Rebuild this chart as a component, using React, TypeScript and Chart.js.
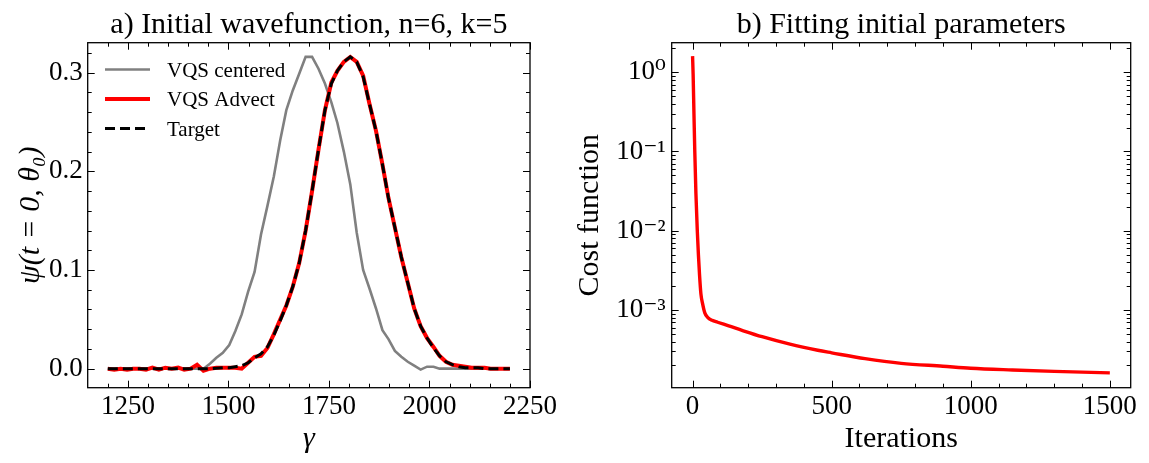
import React, { useEffect, useRef } from 'react';
import { Chart, registerables } from 'chart.js';

Chart.register(...registerables);

// ---------- Panel a) data ----------
const gamma = [
  1200, 1216, 1232, 1248, 1263, 1279, 1295, 1311, 1327, 1343, 1359, 1375, 1390, 1406, 1422, 1438,
  1454, 1470, 1486, 1502, 1517, 1533, 1549, 1565, 1581, 1597, 1613, 1629, 1644, 1660, 1676, 1692,
  1708, 1724, 1740, 1756, 1771, 1787, 1803, 1819, 1835, 1851, 1867, 1883, 1898, 1914, 1930, 1946,
  1962, 1978, 1994, 2010, 2025, 2041, 2057, 2073, 2089, 2105, 2121, 2137, 2152, 2168, 2184, 2200,
];

const vqsCentered = [
  0.0, 0.0, 0.0, 0.0, 0.0, 0.0, 0.0, 0.0, 0.0, 0.0, 0.0, 0.0, 0.0, 0.0, 0.0, 0.0,
  0.005, 0.011, 0.016, 0.024, 0.038, 0.055, 0.078, 0.098, 0.136, 0.165, 0.195, 0.232, 0.262, 0.282, 0.299, 0.316,
  0.316, 0.304, 0.289, 0.27, 0.249, 0.22, 0.187, 0.138, 0.1, 0.081, 0.061, 0.039, 0.03, 0.018, 0.012, 0.007,
  0.003, -0.001, 0.002, 0.002, 0.0, 0.0, 0.0, 0.0, 0.0, 0.0, 0.0, 0.0, 0.0, 0.0, 0.0, 0.0,
];

const vqsAdvect = [
  0.0, -0.001, 0.0, -0.001, 0.0, 0.0, -0.001, 0.001, -0.001, 0.001, 0.0, 0.001, -0.001, 0.0, 0.004, -0.002,
  0.0, 0.001, 0.001, 0.001, 0.001, 0.0, 0.006, 0.012, 0.013, 0.021, 0.035, 0.05, 0.064, 0.083, 0.107, 0.14,
  0.18, 0.222, 0.262, 0.29, 0.302, 0.311, 0.316, 0.311, 0.297, 0.268, 0.241, 0.207, 0.173, 0.143, 0.113, 0.087,
  0.061, 0.043, 0.031, 0.022, 0.013, 0.007, 0.004, 0.003, 0.002, 0.001, 0.001, 0.001, 0.0, 0.0, 0.0, 0.0,
];

const target = [
  0.0, 0.0, 0.0, 0.0, 0.0, 0.0, 0.0, 0.0, 0.0, 0.0, 0.0, 0.0, 0.0, 0.0, 0.0, 0.0,
  0.0, 0.0005, 0.001, 0.001, 0.002, 0.003, 0.006, 0.011, 0.015, 0.022, 0.034, 0.049, 0.064, 0.083, 0.107, 0.14,
  0.18, 0.222, 0.262, 0.289, 0.302, 0.311, 0.316, 0.311, 0.296, 0.268, 0.241, 0.207, 0.173, 0.143, 0.113, 0.087,
  0.061, 0.043, 0.031, 0.021, 0.013, 0.007, 0.004, 0.002, 0.001, 0.001, 0.001, 0.0, 0.0, 0.0, 0.0, 0.0,
];

// ---------- Panel b) data ----------
const iterations = [0, 2, 5, 8, 12, 17, 21, 25, 30, 36, 44, 55, 70, 90, 130, 180, 250, 350, 450, 500, 620, 750, 900, 1000, 1150, 1300, 1500];
const cost = [
  1.6, 0.95, 0.3, 0.1, 0.03, 0.01, 0.005, 0.0028, 0.0016, 0.0012, 0.00092, 0.0008, 0.00074, 0.0007, 0.00063,
  0.00055, 0.00046, 0.00037, 0.00031, 0.000288, 0.000243, 0.000212, 0.000195, 0.000184, 0.000175, 0.000168, 0.000161,
];

// ---------- Tick labels ----------
const leftXTicks = [1250, 1500, 1750, 2000, 2250];
const leftYTicks = [0, 0.1, 0.2, 0.3];
const rightXTicks = [0, 500, 1000, 1500];
const rightYTicks = [1e-3, 1e-2, 1e-1, 1];
const rightYTickLabels = ['10⁻³', '10⁻²', '10⁻¹', '10⁰'];

const titleA = 'a) Initial wavefunction, n=6, k=5';
const titleB = 'b) Fitting initial parameters';
const legendLabels = ['VQS centered', 'VQS Advect', 'Target'];

const SERIF = '"Liberation Serif", "DejaVu Serif", serif';

function range(a: number, b: number, s: number) {
  const out: number[] = [];
  for (let v = a; v <= b + 1e-9; v += s) out.push(+v.toFixed(6));
  return out;
}
function logMinor(dMin: number, dMax: number) {
  const out: number[] = [];
  for (let d = dMin; d <= dMax; d++) for (let m = 2; m <= 9; m++) out.push(m * Math.pow(10, d));
  return out;
}

const framePlugin = {
  id: 'mplFrame',
  afterDraw(chart: any, _args: any, opts: any) {
    const { ctx, chartArea: a, scales } = chart;
    const xs = scales.x;
    const ys = scales.y;
    ctx.save();
    ctx.strokeStyle = '#000';
    ctx.lineWidth = 1;
    const inX = (px: number) => px >= a.left - 0.5 && px <= a.right + 0.5;
    const inY = (py: number) => py >= a.top - 0.5 && py <= a.bottom + 0.5;
    const drawX = (vals: number[], len: number) => {
      for (const v of vals) {
        const px = Math.round(xs.getPixelForValue(v)) + 0.5;
        if (!inX(px)) continue;
        ctx.beginPath();
        ctx.moveTo(px, a.bottom);
        ctx.lineTo(px, a.bottom - len);
        ctx.moveTo(px, a.top);
        ctx.lineTo(px, a.top + len);
        ctx.stroke();
      }
    };
    const drawY = (vals: number[], len: number) => {
      for (const v of vals) {
        const py = Math.round(ys.getPixelForValue(v)) + 0.5;
        if (!inY(py)) continue;
        ctx.beginPath();
        ctx.moveTo(a.left, py);
        ctx.lineTo(a.left + len, py);
        ctx.moveTo(a.right, py);
        ctx.lineTo(a.right - len, py);
        ctx.stroke();
      }
    };
    drawX(opts.xMajor, 7);
    drawX(opts.xMinor, 4);
    drawY(opts.yMajor, 7);
    drawY(opts.yMinor, 4);
    ctx.lineWidth = 1.3;
    ctx.strokeRect(a.left, a.top, a.right - a.left, a.bottom - a.top);

    ctx.fillStyle = '#000';
    ctx.font = `30px ${SERIF}`;
    ctx.textAlign = 'center';
    ctx.textBaseline = 'alphabetic';
    ctx.fillText(opts.title, (a.left + a.right) / 2, 33);

    if (opts.legend) {
      ctx.font = `21px ${SERIF}`;
      ctx.textAlign = 'left';
      opts.legend.forEach((it: any, i: number) => {
        const y = 69.5 + i * 29.5;
        ctx.beginPath();
        ctx.strokeStyle = it.color;
        ctx.lineWidth = it.width;
        ctx.setLineDash(it.dash || []);
        ctx.moveTo(105, y);
        ctx.lineTo(150, y);
        ctx.stroke();
        ctx.setLineDash([]);
        ctx.fillStyle = '#000';
        ctx.fillText(it.label, 167, y + 7);
      });
    }
    ctx.restore();
  },
};

const tickFont = { family: SERIF, size: 27 };
const labelFont = { family: SERIF, size: 30 };

function makeLeft(canvas: HTMLCanvasElement) {
  return new Chart(canvas, {
    type: 'line',
    data: {
      datasets: [
        {
          label: legendLabels[0],
          data: gamma.map((g, i) => ({ x: g, y: vqsCentered[i] })),
          borderColor: '#808080',
          borderWidth: 2.6,
          pointRadius: 0,
          tension: 0,
          order: 3,
        },
        {
          label: legendLabels[1],
          data: gamma.map((g, i) => ({ x: g, y: vqsAdvect[i] })),
          borderColor: '#ff0000',
          borderWidth: 4,
          pointRadius: 0,
          tension: 0,
          order: 2,
        },
        {
          label: legendLabels[2],
          data: gamma.map((g, i) => ({ x: g, y: target[i] })),
          borderColor: '#000000',
          borderWidth: 3,
          borderDash: [10, 5],
          pointRadius: 0,
          tension: 0,
          order: 1,
        },
      ],
    },
    options: {
      responsive: false,
      maintainAspectRatio: false,
      animation: false,
      layout: { padding: { top: 42.7, right: 12.7, left: 0, bottom: 0 } },
      plugins: {
        legend: { display: false },
        tooltip: { enabled: false },
        mplFrame: {
          xMajor: leftXTicks,
          xMinor: range(1200, 2250, 50),
          yMajor: leftYTicks,
          yMinor: range(0, 0.32, 0.02),
          title: titleA,
          legend: [
            { label: legendLabels[0], color: '#808080', width: 2.6 },
            { label: legendLabels[1], color: '#ff0000', width: 4 },
            { label: legendLabels[2], color: '#000000', width: 3, dash: [10, 5] },
          ],
        },
      } as any,
      scales: {
        x: {
          type: 'linear',
          min: 1150,
          max: 2250,
          grid: { display: false, drawTicks: false },
          border: { display: false },
          afterBuildTicks: (s: any) => { s.ticks = leftXTicks.map((v) => ({ value: v })); },
          afterFit: (s: any) => { s.height = 75.3; },
          ticks: { font: tickFont, color: '#000', padding: 3, maxRotation: 0, callback: (v: any) => String(v) },
          title: { display: true, text: 'γ', font: { ...labelFont, style: 'italic' }, color: '#000', padding: { top: 0, bottom: 6 } },
        },
        y: {
          type: 'linear',
          min: -0.0193,
          max: 0.3304,
          grid: { display: false, drawTicks: false },
          border: { display: false },
          afterBuildTicks: (s: any) => { s.ticks = leftYTicks.map((v) => ({ value: v })); },
          afterFit: (s: any) => { s.width = 87.7; },
          ticks: { font: tickFont, color: '#000', padding: 5, callback: (v: any) => Number(v).toFixed(1) },
          title: { display: true, text: 'ψ(t = 0, θ₀)', font: { ...labelFont, style: 'italic' }, color: '#000', padding: { top: 13, bottom: 0 } },
        },
      },
    },
    plugins: [framePlugin],
  } as any);
}

function makeRight(canvas: HTMLCanvasElement) {
  return new Chart(canvas, {
    type: 'line',
    data: {
      datasets: [
        {
          label: 'Cost function',
          data: iterations.map((it, i) => ({ x: it, y: cost[i] })),
          borderColor: '#ff0000',
          borderWidth: 3.4,
          pointRadius: 0,
          cubicInterpolationMode: 'monotone',
        },
      ],
    },
    options: {
      responsive: false,
      maintainAspectRatio: false,
      animation: false,
      layout: { padding: { top: 42.7, right: 18.3, left: 0, bottom: 0 } },
      plugins: {
        legend: { display: false },
        tooltip: { enabled: false },
        mplFrame: {
          xMajor: rightXTicks,
          xMinor: range(0, 1500, 100),
          yMajor: rightYTicks,
          yMinor: logMinor(-4, 0),
          title: titleB,
        },
      } as any,
      scales: {
        x: {
          type: 'linear',
          min: -75,
          max: 1575,
          grid: { display: false, drawTicks: false },
          border: { display: false },
          afterBuildTicks: (s: any) => { s.ticks = rightXTicks.map((v) => ({ value: v })); },
          afterFit: (s: any) => { s.height = 75.3; },
          ticks: { font: tickFont, color: '#000', padding: 3, maxRotation: 0, callback: (v: any) => String(v) },
          title: { display: true, text: 'Iterations', font: labelFont, color: '#000', padding: { top: 0, bottom: 6 } },
        },
        y: {
          type: 'logarithmic',
          min: 1.045e-4,
          max: 2.36,
          grid: { display: false, drawTicks: false },
          border: { display: false },
          afterBuildTicks: (s: any) => { s.ticks = rightYTicks.map((v) => ({ value: v })); },
          afterFit: (s: any) => { s.width = 111.7; },
          ticks: { font: tickFont, color: '#000', padding: 6, callback: (_v: any, i: number) => rightYTickLabels[i] },
          title: { display: true, text: 'Cost function', font: labelFont, color: '#000', padding: { top: 12, bottom: 0 } },
        },
      },
    },
    plugins: [framePlugin],
  } as any);
}

export default function App() {
  const leftRef = useRef<HTMLCanvasElement>(null);
  const rightRef = useRef<HTMLCanvasElement>(null);
  useEffect(() => {
    const c1 = makeLeft(leftRef.current!);
    const c2 = makeRight(rightRef.current!);
    return () => {
      c1.destroy();
      c2.destroy();
    };
  }, []);
  return (
    <div style={{ position: 'absolute', left: 0, top: 0, width: 1149, height: 463, background: '#fff', overflow: 'hidden' }}>
      <canvas ref={leftRef} width={560} height={463} style={{ position: 'absolute', left: 0, top: 0, width: 560, height: 463 }} />
      <canvas ref={rightRef} width={589} height={463} style={{ position: 'absolute', left: 560, top: 0, width: 589, height: 463 }} />
    </div>
  );
}
